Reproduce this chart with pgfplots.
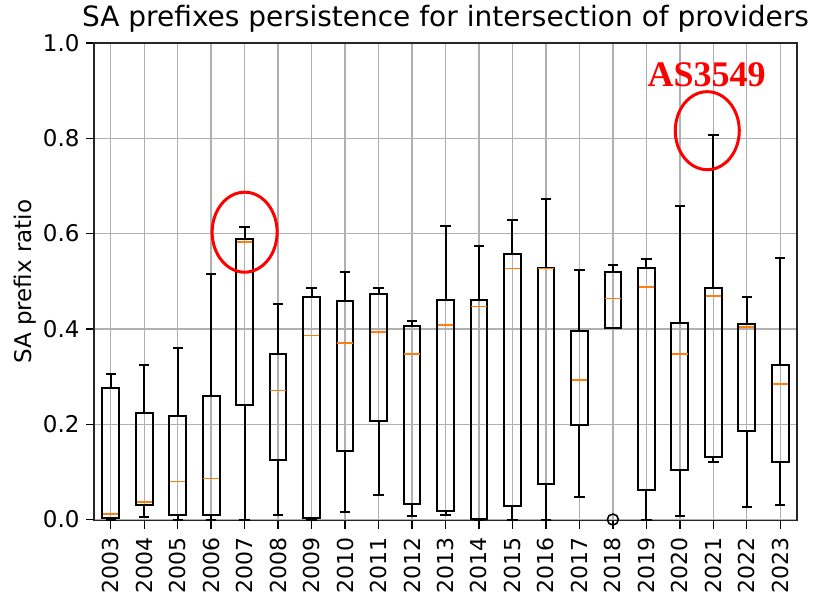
\documentclass[border=0pt]{standalone}
\usepackage{fontspec}
\setmainfont{DejaVu Sans}
\newfontfamily\serifbold{Liberation Serif}
\usepackage{pgfplots}
\usepackage{pgfplotstable}
\pgfplotsset{compat=1.18}
\definecolor{mplorange}{HTML}{FF7F0E}
\definecolor{gridgray}{HTML}{B0B0B0}
% x: position, lw: lower whisker, q1, med, q3, uw: upper whisker
\pgfplotstableread{
x  lw    q1    med   q3    uw
1  0.000 0.004 0.012 0.277 0.305
2  0.005 0.031 0.036 0.224 0.325
3  0.000 0.010 0.080 0.218 0.360
4  0.000 0.010 0.086 0.260 0.516
5  0.000 0.240 0.582 0.588 0.614
6  0.010 0.124 0.271 0.347 0.452
7  0.000 0.004 0.386 0.466 0.485
8  0.016 0.143 0.370 0.459 0.519
9  0.052 0.207 0.393 0.474 0.485
10 0.008 0.033 0.347 0.407 0.416
11 0.010 0.017 0.409 0.460 0.617
12 0.000 0.001 0.447 0.460 0.574
13 0.000 0.029 0.527 0.558 0.628
14 0.000 0.075 0.527 0.528 0.672
15 0.047 0.199 0.293 0.396 0.524
16 0.402 0.402 0.464 0.519 0.535
17 0.000 0.062 0.488 0.527 0.547
18 0.008 0.104 0.348 0.413 0.658
19 0.121 0.132 0.469 0.485 0.807
20 0.027 0.185 0.404 0.410 0.466
21 0.030 0.121 0.285 0.325 0.549
}\boxdata
\begin{document}
\begin{tikzpicture}
\begin{axis}[
  name=ax,
  scale only axis,
  width=703pt, height=477.5pt,
  xmin=0.5, xmax=21.5,
  ymin=-0.002, ymax=1.0,
  xtick={1,2,3,4,5,6,7,8,9,10,11,12,13,14,15,16,17,18,19,20,21},
  xticklabels={2003,2004,2005,2006,2007,2008,2009,2010,2011,2012,2013,2014,2015,2016,2017,2018,2019,2020,2021,2022,2023},
  x tick label style={rotate=90, anchor=east, inner sep=0pt, xshift=-9pt, font=\fontsize{22}{26}\selectfont},
  ytick={0,0.2,0.4,0.6,0.8,1.0},
  yticklabels={0.0,0.2,0.4,0.6,0.8,1.0},
  y tick label style={xshift=-3pt, font=\fontsize{23}{27}\selectfont},
  ylabel={SA prefix ratio},
  ylabel style={font=\fontsize{23}{27}\selectfont, at={(axis description cs:0,0.5)}, anchor=center, yshift=69pt},
  title={SA prefixes persistence for intersection of providers},
  title style={font=\fontsize{28}{32}\selectfont, at={(axis description cs:0.5,1)}, anchor=base, yshift=10pt},
  grid=major,
  major grid style={gridgray, line width=1.4pt},
  axis line style={line width=1.6pt, black!85},
  tick style={line width=1.4pt, black},
  major tick length=8pt,
  tick align=outside,
  xtick pos=bottom, ytick pos=left,
  every axis plot/.append style={line cap=rect},
]
% box: bottom and top edges
\addplot[black, line width=2pt, quiver={u=0.5, v=0}] table[x expr=\thisrow{x}-0.25, y=q1] {\boxdata};
\addplot[black, line width=2pt, quiver={u=0.5, v=0}] table[x expr=\thisrow{x}-0.25, y=q3] {\boxdata};
% box: left and right edges
\addplot[black, line width=2pt, quiver={u=0, v=\thisrow{q3}-\thisrow{q1}}] table[x expr=\thisrow{x}-0.25, y=q1] {\boxdata};
\addplot[black, line width=2pt, quiver={u=0, v=\thisrow{q3}-\thisrow{q1}}] table[x expr=\thisrow{x}+0.25, y=q1] {\boxdata};
% whiskers
\addplot[black, line width=2pt, quiver={u=0, v=\thisrow{q1}-\thisrow{lw}}] table[x=x, y=lw] {\boxdata};
\addplot[black, line width=2pt, quiver={u=0, v=\thisrow{uw}-\thisrow{q3}}] table[x=x, y=q3] {\boxdata};
% caps
\addplot[black, line width=2pt, quiver={u=0.25, v=0}] table[x expr=\thisrow{x}-0.125, y=lw] {\boxdata};
\addplot[black, line width=2pt, quiver={u=0.25, v=0}] table[x expr=\thisrow{x}-0.125, y=uw] {\boxdata};
% medians
\addplot[mplorange, line width=1.8pt, line cap=butt, quiver={u=0.46, v=0}] table[x expr=\thisrow{x}-0.23, y=med] {\boxdata};
% outlier
\addplot[black, only marks, mark=o, mark size=5.5pt, mark options={line width=1.6pt}] coordinates {(16,0.0)};
\draw[red, line width=3pt] (axis cs:5,0.603) ellipse [x radius=32.5pt, y radius=40pt];
\draw[red, line width=3pt] (axis cs:18.82,0.816) ellipse [x radius=32pt, y radius=39pt];
\node[red, font=\serifbold\bfseries\fontsize{36}{36}\selectfont, anchor=base, inner sep=0pt] at (axis cs:18.8,0.908) {AS3549};
\end{axis}
\pgfresetboundingbox
\useasboundingbox (ax.south west) ++(-94pt,-75.5pt) rectangle ++(813pt,596pt);
\end{tikzpicture}
\end{document}
